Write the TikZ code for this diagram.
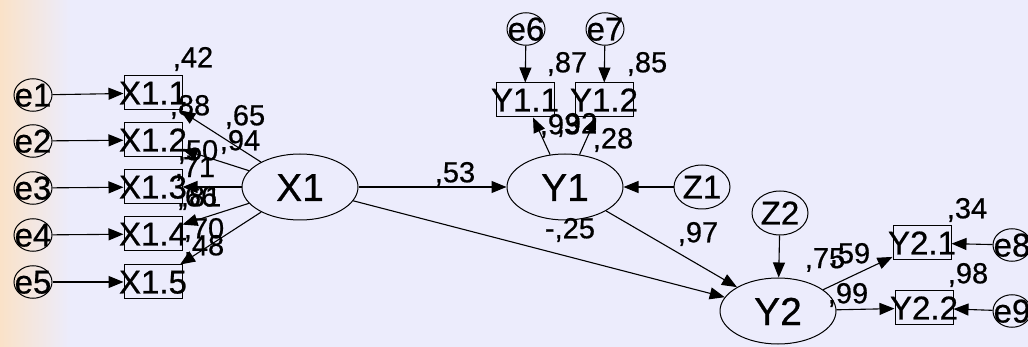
\documentclass[tikz,border=0pt]{standalone}
\usepackage{fontspec}
\setmainfont{Liberation Sans}[FakeBold=0.6]
\usetikzlibrary{arrows.meta,shapes.geometric}
\definecolor{bgsky}{RGB}{236,236,252}
\definecolor{bgpeach}{RGB}{250,226,200}
\newcommand\nowidth[1]{\makebox[0pt]{#1}}

\begin{document}
\begin{tikzpicture}[x=1pt,y=-1pt,
  every node/.style={inner sep=0pt},
  latent/.style={draw,ellipse,line width=1pt,minimum width=116pt,minimum height=66pt,
    font=\fontsize{39}{39}\selectfont,text height=28pt,text depth=0pt},
  errvar/.style={draw,ellipse,line width=1pt,minimum width=38pt,minimum height=31pt,
    font=\fontsize{33}{33}\selectfont,text height=23pt,text depth=0pt},
  distvar/.style={errvar,minimum width=56pt,minimum height=44pt},
  obsbox/.style={draw,rectangle,line width=1pt,minimum width=58pt,minimum height=34pt,
    font=\fontsize{33}{33}\selectfont,text height=23pt,text depth=0pt},
  est/.style={font=\fontsize{29}{29}\selectfont},
  path/.style={line width=1.1pt,-{Triangle[length=15pt,width=12pt]}},
]
% canvas
\fill[bgsky] (0,0) rectangle (1028,347);
\shade[left color=bgpeach,right color=bgsky] (0,0) rectangle (70,347);
\useasboundingbox (0,0) rectangle (1028,347);

% exogenous block
\node[errvar] (e1) at (33,95)  {\nowidth{e1}};
\node[errvar] (e2) at (33,141) {\nowidth{e2}};
\node[errvar] (e3) at (33,188) {\nowidth{e3}};
\node[errvar] (e4) at (33,235) {\nowidth{e4}};
\node[errvar] (e5) at (33,282) {\nowidth{e5}};
\node[obsbox] (x11) at (153,93)  {\nowidth{X1.1}};
\node[obsbox] (x12) at (153,140) {\nowidth{X1.2}};
\node[obsbox] (x13) at (153,187) {\nowidth{X1.3}};
\node[obsbox] (x14) at (153,234) {\nowidth{X1.4}};
\node[obsbox] (x15) at (153,282) {\nowidth{X1.5}};
\node[latent] (X1) at (300,187) {\nowidth{X1}};

% first endogenous block
\node[latent] (Y1) at (565,187) {\nowidth{Y1}};
\node[distvar] (Z1) at (702,187) {\nowidth{Z1}};
\node[obsbox] (y11) at (525,100) {\nowidth{Y1.1}};
\node[obsbox] (y12) at (604,100) {\nowidth{Y1.2}};
\node[errvar] (e6) at (526,29) {\nowidth{e6}};
\node[errvar] (e7) at (605,29) {\nowidth{e7}};

% second endogenous block
\node[latent] (Y2) at (778,311) {\nowidth{Y2}};
\node[distvar] (Z2) at (780,213) {\nowidth{Z2}};
\node[obsbox] (y21) at (922,243) {\nowidth{Y2.1}};
\node[obsbox] (y22) at (924,308) {\nowidth{Y2.2}};
\node[errvar] (e8) at (1012,245) {\nowidth{e8}};
\node[errvar] (e9) at (1012,311) {\nowidth{e9}};

% paths
\foreach \i in {1,...,5} {
  \draw[path] (e\i) -- (x1\i);
  \draw[path] (X1) -- (x1\i);
}
\draw[path] (X1) -- (Y1);
\draw[path] (X1) -- (Y2);
\draw[path] (Z1) -- (Y1);
\draw[path] (Y1) -- (y11);
\draw[path] (Y1) -- (y12);
\draw[path] (e6) -- (y11);
\draw[path] (e7) -- (y12);
\draw[path] (Y1) -- (Y2);
\draw[path] (Z2) -- (Y2);
\draw[path] (Y2) -- (y21);
\draw[path] (Y2) -- (y22);
\draw[path] (e8) -- (y21);
\draw[path] (e9) -- (y22);

% standardized estimates
\node[est] (r42) at (193,59)  {,42};
\node[est] (r88) at (190,107) {,88};
\node[est] (p65) at (245,117) {,65};
\node[est] (p94) at (240,142) {,94};
\node[est] (r50) at (198,152) {,50};
\node[est] (p71) at (195,169) {,71};
\node[est] (r66) at (197,198) {,66};
\node[est] (p81) at (201,198) {,81};
\node[est] (p70) at (204,230) {,70};
\node[est] (r48) at (204,247) {,48};
\node[est] (r87) at (567,64)  {,87};
\node[est] (r85) at (647,64)  {,85};
\node[est] (p93) at (560,126) {,93};
\node[est] (p92) at (577,125) {,92};
\node[est] (r28) at (613,140) {,28};
\node[est] (p53) at (455,174) {,53};
\node[est] (pm25) at (570,230) {-,25};
\node[est] (p97) at (698,234) {,97};
\node[est] (r75) at (825,260) {,75};
\node[est] (p59) at (850,255) {,59};
\node[est] (p99) at (848,295) {,99};
\node[est] (r34) at (967,210) {,34};
\node[est] (r98) at (968,275) {,98};
\end{tikzpicture}
\end{document}
